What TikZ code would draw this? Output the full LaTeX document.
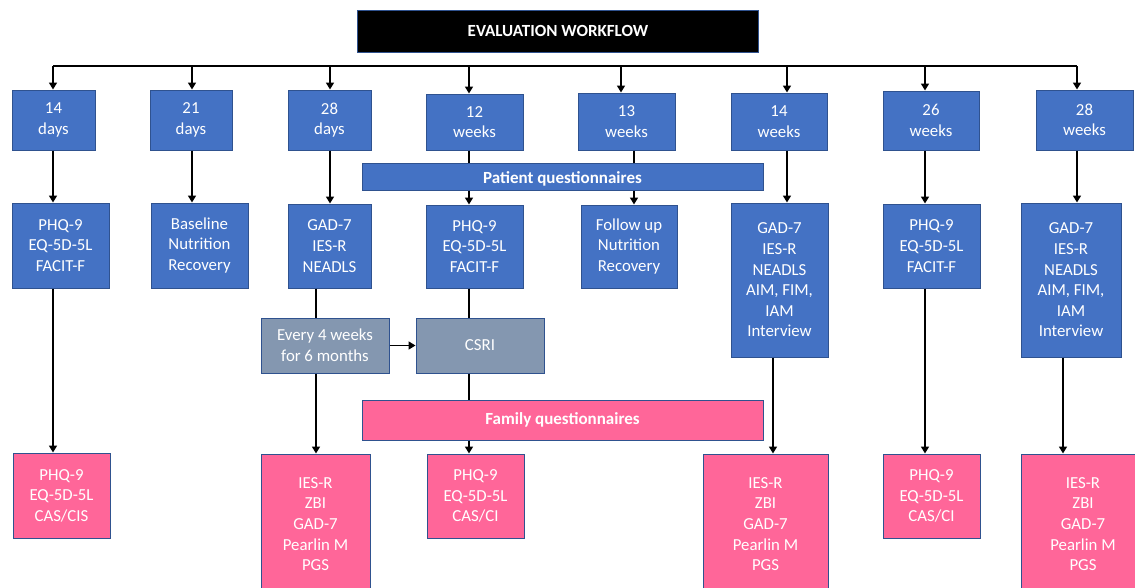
\documentclass[tikz,border=0pt]{standalone}
\usepackage{fontspec}
\setmainfont{Carlito}
\usetikzlibrary{arrows.meta}

\begin{document}
\begin{tikzpicture}[x=1pt, y=-1pt,
    box/.style={draw=bordercol, line width=1pt, align=center, text=white, inner sep=0pt, font=\fontsize{16.8}{20.6}\selectfont},
    bluebox/.style={box, fill=boxblue},
    pinkbox/.style={box, fill=boxpink},
    graybox/.style={box, fill=boxgray},
    barbox/.style={box, font=\fontsize{17}{20}\selectfont\bfseries},
    link/.style={black, line width=1.6pt},
    arr/.style={link, -{Triangle[width=8pt,length=7pt]}}]
        % Colours
        \definecolor{bordercol}{RGB}{47,82,143}
        \definecolor{boxblue}{RGB}{68,114,196}
        \definecolor{boxpink}{RGB}{255,102,153}
        \definecolor{boxgray}{RGB}{132,151,176}

        \useasboundingbox (0,0) rectangle (1135,587);

        % Title
        \node[barbox, fill=black, minimum width=401, minimum height=42] (title) at (558,31) {EVALUATION WORKFLOW};

        % Bus line and drop points
        \coordinate (b1) at (53,66);
        \coordinate (b2) at (192,66);
        \coordinate (b3) at (330,66);
        \coordinate (b4) at (469,66);
        \coordinate (b5) at (621,66);
        \coordinate (b6) at (787,66);
        \coordinate (b7) at (925,66);
        \coordinate (b8) at (1077,66);
        \coordinate (d3) at (316,0);
        \coordinate (d5) at (634,0);
        \coordinate (d6) at (773,0);
        \coordinate (d8) at (1063,0);

        % Time points
        \node[bluebox, minimum width=83, minimum height=60] (t1) at (53.5,120) {14\\days};
        \node[bluebox, minimum width=82, minimum height=60] (t2) at (191,120) {21\\days};
        \node[bluebox, minimum width=83, minimum height=60] (t3) at (329.5,120) {28\\days};
        \node[bluebox, minimum width=97, minimum height=56] (t4) at (474.5,122) {12\\weeks};
        \node[bluebox, minimum width=97, minimum height=57] (t5) at (626.5,121.5) {13\\weeks};
        \node[bluebox, minimum width=96, minimum height=57] (t6) at (779,121.5) {14\\weeks};
        \node[bluebox, minimum width=96, minimum height=59] (t7) at (931,120.5) {26\\weeks};
        \node[bluebox, minimum width=97, minimum height=60] (t8) at (1084.5,120) {28\\weeks};

        % Patient questionnaires
        \node[barbox, fill=boxblue, minimum width=401, minimum height=27] (pq) at (562.5,176.5) {\raisebox{-7pt}[0pt][0pt]{Patient questionnaires}};

        \node[bluebox, minimum width=97, minimum height=85] (m1) at (60.5,245.5) {PHQ-9\\EQ-5D-5L\\FACIT-F};
        \node[bluebox, minimum width=97, minimum height=85] (m2) at (199.5,245.5) {Baseline\\Nutrition\\Recovery};
        \node[bluebox, minimum width=83, minimum height=84] (m3) at (329.5,246) {GAD-7\\IES-R\\NEADLS};
        \node[bluebox, minimum width=97, minimum height=83] (m4) at (474.5,246.5) {PHQ-9\\EQ-5D-5L\\FACIT-F};
        \node[bluebox, minimum width=96, minimum height=83] (m5) at (629,246.5) {Follow up\\Nutrition\\Recovery};
        \node[bluebox, minimum width=97, minimum height=154] (m6) at (779.5,280) {GAD-7\\IES-R\\NEADLS\\AIM, FIM,\\IAM\\Interview};
        \node[bluebox, minimum width=97, minimum height=84] (m7) at (931.5,246) {PHQ-9\\EQ-5D-5L\\FACIT-F};
        \node[bluebox, minimum width=100, minimum height=154] (m8) at (1071,280) {GAD-7\\IES-R\\NEADLS\\AIM, FIM,\\IAM\\Interview};

        % Economic follow up
        \node[graybox, minimum width=128, minimum height=55] (g1) at (325,345.5) {Every 4 weeks\\for 6 months};
        \node[graybox, minimum width=128, minimum height=55] (g2) at (480,345.5) {CSRI};

        % Family questionnaires
        \node[barbox, fill=boxpink, minimum width=401, minimum height=40] (fq) at (562.5,420) {Family questionnaires};

        \node[pinkbox, minimum width=97, minimum height=85] (p1) at (61.5,495.5) {PHQ-9\\EQ-5D-5L\\CAS/CIS};
        \node[pinkbox, minimum width=109, minimum height=140] (p2) at (315.5,524) {IES-R\\ZBI\\GAD-7\\Pearlin M\\PGS};
        \node[pinkbox, minimum width=97, minimum height=84] (p3) at (475.5,496) {PHQ-9\\EQ-5D-5L\\CAS/CI};
        \node[pinkbox, minimum width=125, minimum height=140] (p4) at (765.5,524) {IES-R\\ZBI\\GAD-7\\Pearlin M\\PGS};
        \node[pinkbox, minimum width=97, minimum height=84] (p5) at (931.5,496) {PHQ-9\\EQ-5D-5L\\CAS/CI};
        \node[pinkbox, minimum width=124, minimum height=140] (p6) at (1083,524) {IES-R\\ZBI\\GAD-7\\Pearlin M\\PGS};

        % Connectors
        \draw[link] (b1) -- (b8);
        \foreach \i in {1,...,8} {
            \draw[arr] (b\i) -- (b\i |- t\i.north);
        }
        \foreach \i in {1,2,3,6,7,8} {
            \draw[arr] (b\i |- t\i.south) -- (b\i |- m\i.north);
        }
        \draw[link] (b4 |- t4.south) -- (b4 |- pq.north);
        \draw[arr] (b4 |- pq.south) -- (b4 |- m4.north);
        \draw[link] (d5 |- t5.south) -- (d5 |- pq.north);
        \draw[arr] (d5 |- pq.south) -- (d5 |- m5.north);

        \draw[arr] (b1 |- m1.south) -- (b1 |- p1.north);
        \draw[link] (d3 |- m3.south) -- (d3 |- g1.north);
        \draw[arr] (d3 |- g1.south) -- (d3 |- p2.north);
        \draw[arr] (g1) -- (g2);
        \draw[link] (b4 |- m4.south) -- (b4 |- g2.north);
        \draw[link] (b4 |- g2.south) -- (b4 |- fq.north);
        \draw[arr] (b4 |- fq.south) -- (b4 |- p3.north);
        \draw[arr] (d6 |- m6.south) -- (d6 |- p4.north);
        \draw[arr] (b7 |- m7.south) -- (b7 |- p5.north);
        \draw[arr] (d8 |- m8.south) -- (d8 |- p6.north);
\end{tikzpicture}
\end{document}
